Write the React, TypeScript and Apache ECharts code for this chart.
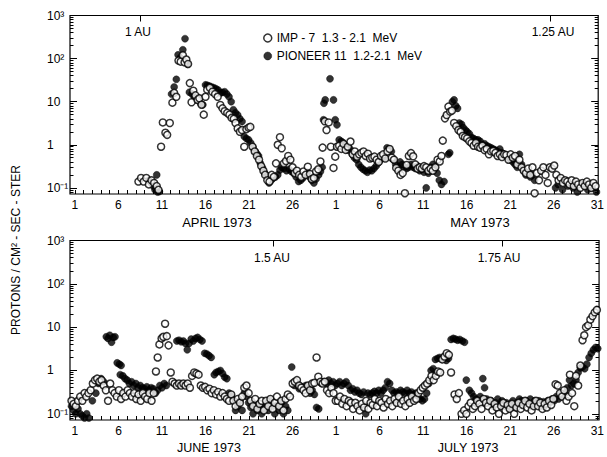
import { useEffect, useRef } from "react";
import * as echarts from "echarts";

const FONT = "'Liberation Sans', Arial, sans-serif";

const IMP_LABEL = "IMP - 7  1.3 - 2.1  MeV";
const PIONEER_LABEL = "PIONEER 11  1.2-2.1  MeV";

const Y_MIN = 0.072;
const Y_MAX = 1000;
const yMajorValues = [0.1, 1, 10, 100, 1000];
const yMajorLabels = ["10⁻¹", "1", "10", "10²", "10³"];
const yMinorValues = [
  0.08, 0.09, 0.2, 0.3, 0.4, 0.5, 0.6, 0.7, 0.8, 0.9, 2, 3, 4, 5, 6, 7, 8, 9,
  20, 30, 40, 50, 60, 70, 80, 90, 200, 300, 400, 500, 600, 700, 800, 900,
];

// day index: first month day d -> d, second month day d -> 30 + d
const dayTickValues = [
  1, 2, 3, 4, 5, 6, 7, 8, 9, 10, 11, 12, 13, 14, 15, 16, 17, 18, 19, 20, 21, 22,
  23, 24, 25, 26, 27, 28, 29, 30, 31, 32, 33, 34, 35, 36, 37, 38, 39, 40, 41, 42,
  43, 44, 45, 46, 47, 48, 49, 50, 51, 52, 53, 54, 55, 56, 57, 58, 59, 60, 61,
];
const dayLabelValues = [1, 6, 11, 16, 21, 26, 31, 36, 41, 46, 51, 56, 61];

const topMonths = ["APRIL 1973", "MAY 1973"];
const bottomMonths = ["JUNE 1973", "JULY 1973"];
const topDistances = ["1 AU", "1.25 AU"];
const bottomDistances = ["1.5 AU", "1.75 AU"];
const yTitle = "PROTONS / CM² - SEC - STER";

// ---- April / May 1973 ----
const impAprMay: [number, number][] = [
  [8.3, 0.14], [8.6, 0.17], [8.9, 0.14], [9.2, 0.17], [9.5, 0.12], [9.8, 0.15], [10.1, 0.13], [10.4, 0.11], [10.6, 0.09],
  [10.9, 0.9], [11.1, 3.3], [11.4, 1.9], [11.6, 1.7], [11.9, 3.2], [12.2, 9.5], [12.4, 16], [12.65, 13], [12.9, 90],
  [13.15, 85], [13.4, 120], [13.6, 82], [13.8, 95], [14.0, 75], [14.2, 27], [14.4, 9.7], [14.6, 18], [14.85, 14],
  [15.1, 11], [15.3, 12], [15.55, 8.5], [15.8, 5], [16.0, 13], [16.2, 19], [16.5, 21], [16.8, 17], [17.1, 15],
  [17.4, 13], [17.7, 8.4], [17.95, 7], [18.2, 6], [18.5, 5.5], [18.75, 5], [19.0, 4.2], [19.25, 4], [19.45, 3.2],
  [19.7, 2.4], [19.95, 2], [20.2, 2.2], [20.45, 0.9], [20.7, 2.3], [20.95, 2.5], [21.15, 2.6], [21.4, 0.9],
  [21.65, 0.7], [21.9, 0.55], [22.15, 0.45], [22.4, 0.32], [22.65, 0.25], [22.85, 0.2], [23.1, 0.15], [23.35, 0.14],
  [23.6, 0.2], [23.85, 0.18], [24.1, 0.37], [24.3, 1.0], [24.55, 1.5], [24.75, 0.83], [25.0, 0.37], [25.25, 0.42],
  [25.5, 0.55], [25.75, 0.45], [26.0, 0.3], [26.25, 0.22], [26.5, 0.25], [26.75, 0.2], [27.0, 0.18], [27.25, 0.24],
  [27.5, 0.2], [27.75, 0.31], [28.0, 0.21], [28.2, 0.16], [28.45, 0.17], [28.7, 0.24], [28.95, 0.27], [29.2, 0.41],
  [29.45, 0.86], [29.7, 3.5], [29.9, 2.2], [30.15, 3.3], [30.4, 0.9], [30.7, 0.29], [30.9, 0.53], [31.1, 0.9],
  [31.35, 0.95], [31.6, 0.8], [31.85, 1.05], [32.1, 0.76], [32.35, 0.9], [32.65, 1.19], [32.9, 0.6], [33.15, 0.7],
  [33.4, 0.53], [33.65, 0.6], [33.9, 0.65], [34.15, 0.7], [34.4, 0.55], [34.65, 0.62], [34.9, 0.48], [35.15, 0.5],
  [35.4, 0.53], [35.65, 0.45], [35.9, 0.4], [36.15, 0.55], [36.4, 0.6], [36.65, 0.48], [36.9, 0.7], [37.15, 0.8],
  [37.4, 0.5], [37.65, 0.45], [37.9, 0.29], [38.15, 0.25], [38.4, 0.2], [38.65, 0.22], [38.9, 0.075], [39.1, 0.34],
  [39.35, 0.55], [39.6, 0.64], [39.85, 0.54], [40.1, 0.35], [40.35, 0.28], [40.6, 0.3], [40.85, 0.28], [41.1, 0.32],
  [41.35, 0.3], [41.6, 0.25], [41.85, 0.28], [42.1, 0.25], [42.4, 0.3], [42.65, 0.45], [42.9, 0.41], [43.1, 0.55],
  [43.25, 1.25], [43.5, 4.1], [43.7, 4.9], [43.9, 7.7], [44.1, 5.9], [44.3, 6.2], [44.55, 3.2], [44.8, 2.7],
  [45.05, 2.2], [45.3, 2.0], [45.55, 1.6], [45.8, 1.5], [46.05, 1.4], [46.3, 1.2], [46.55, 1.1], [46.8, 0.95],
  [47.05, 1.1], [47.3, 0.9], [47.55, 0.85], [47.8, 0.95], [48.05, 0.75], [48.3, 0.8], [48.55, 0.6], [48.8, 0.7],
  [49.05, 0.72], [49.3, 0.65], [49.55, 0.55], [49.8, 0.6], [50.05, 0.52], [50.3, 0.6], [50.55, 0.58], [50.8, 0.45],
  [51.05, 0.6], [51.3, 0.5], [51.55, 0.55], [51.8, 0.35], [52.05, 0.45], [52.3, 0.3], [52.55, 0.25], [52.8, 0.22],
  [53.05, 0.28], [53.3, 0.2], [53.55, 0.3], [53.8, 0.075], [54.05, 0.22], [54.3, 0.15], [54.55, 0.25], [54.8, 0.3],
  [55.05, 0.2], [55.3, 0.13], [55.55, 0.3], [55.8, 0.28], [56.05, 0.33], [56.3, 0.2], [56.55, 0.15], [56.8, 0.17],
  [57.05, 0.13], [57.3, 0.15], [57.55, 0.14], [57.8, 0.12], [58.05, 0.15], [58.3, 0.11], [58.55, 0.14], [58.8, 0.12],
  [59.05, 0.1], [59.3, 0.13], [59.55, 0.11], [59.8, 0.14], [60.05, 0.12], [60.3, 0.1], [60.55, 0.13], [60.8, 0.11],
];

const pioneerAprMay: [number, number][] = [
  [9.5, 0.15], [9.75, 0.13], [10.0, 0.11], [10.2, 0.09], [10.4, 0.2], [10.5, 0.08], [10.7, 0.082],
  [12.1, 15], [12.4, 22], [12.65, 33], [12.85, 122], [13.1, 105], [13.4, 160], [13.65, 290], [13.95, 74],
  [14.15, 16.6], [14.45, 15], [14.7, 13], [14.95, 11], [15.2, 12], [15.45, 9], [15.7, 8.5], [16.0, 24.5],
  [16.2, 24], [16.45, 23], [16.7, 22], [16.95, 21], [17.2, 20], [17.45, 18.7], [17.7, 16], [17.95, 16.3],
  [18.2, 17], [18.45, 15], [18.7, 13], [18.95, 10], [19.2, 6.5], [19.45, 5.5], [19.7, 4.9], [19.95, 4],
  [20.2, 3.45], [20.45, 1.55], [20.7, 1.4], [20.95, 1.3], [21.2, 1.1], [21.45, 0.88], [21.7, 0.7], [21.9, 0.62],
  [22.1, 0.55], [22.3, 0.37], [22.55, 0.29], [22.8, 0.22], [23.05, 0.19], [23.3, 0.13], [23.55, 0.15], [23.8, 0.17],
  [24.05, 0.18], [24.3, 0.2], [24.55, 0.26], [24.75, 0.3], [25.0, 0.28], [25.3, 0.25], [25.6, 0.27], [25.85, 0.24],
  [26.1, 0.22], [26.4, 0.18], [26.7, 0.14], [26.95, 0.15], [27.2, 0.17], [27.45, 0.2], [27.7, 0.23], [27.95, 0.18],
  [28.2, 0.15], [28.45, 0.13], [28.7, 0.16], [29.0, 0.2], [29.2, 0.24], [29.4, 0.3], [29.55, 3.8], [29.6, 9.2],
  [29.75, 11], [30.3, 34], [30.7, 11], [30.9, 3.8], [31.1, 2.9], [31.35, 1.3], [31.6, 1.2], [31.85, 1.1],
  [32.1, 0.9], [32.35, 0.75], [32.6, 0.8], [32.85, 0.6], [33.1, 0.5], [33.35, 0.45], [33.6, 0.35], [33.85, 0.3],
  [34.1, 0.27], [34.35, 0.25], [34.6, 0.23], [34.85, 0.26], [35.1, 0.25], [35.35, 0.28], [35.6, 0.32], [35.85, 0.38],
  [36.1, 0.45], [36.35, 0.5], [36.6, 0.5], [36.85, 0.85], [37.1, 0.8], [37.35, 0.7], [37.6, 0.45], [37.85, 0.35],
  [38.1, 0.3], [38.35, 0.4], [38.6, 0.35], [38.85, 0.3], [39.1, 0.28], [39.35, 0.3], [39.6, 0.35], [39.85, 0.3],
  [40.1, 0.28], [40.35, 0.32], [40.6, 0.25], [40.85, 0.27], [41.1, 0.23], [41.35, 0.1], [41.6, 0.22], [41.85, 0.3],
  [42.1, 0.35], [42.35, 0.28], [42.6, 0.22], [42.85, 0.15], [43.1, 0.12], [43.4, 0.14], [43.9, 0.6], [44.05, 0.65],
  [44.35, 10], [44.55, 11], [44.75, 8], [44.95, 7], [45.15, 3.2], [45.4, 3], [45.6, 2.5], [45.85, 2.2],
  [46.05, 2], [46.3, 1.8], [46.55, 1.5], [46.8, 1.4], [47.05, 1.3], [47.3, 1.3], [47.55, 1.2], [47.8, 1.0],
  [48.05, 1.05], [48.3, 0.95], [48.55, 0.9], [48.8, 0.85], [49.05, 0.8], [49.3, 0.75], [49.55, 0.7], [49.8, 0.8],
  [50.05, 0.65], [50.3, 0.6], [50.55, 0.55], [50.8, 0.5], [51.05, 0.45], [51.3, 0.4], [51.55, 0.35], [51.8, 0.3],
  [52.05, 0.6], [52.3, 0.35], [52.55, 0.25], [52.8, 0.2], [53.05, 0.22], [53.3, 0.18], [53.55, 0.2], [53.8, 0.15],
  [56.2, 0.1], [56.5, 0.12], [57.0, 0.09], [57.6, 0.11], [58.2, 0.1], [58.7, 0.08], [59.3, 0.12], [59.9, 0.09],
  [60.4, 0.1], [60.9, 0.08],
];

// ---- June / July 1973 ----
const impJunJul: [number, number][] = [
  [0.6, 0.2], [0.85, 0.17], [1.1, 0.15], [1.35, 0.2], [1.6, 0.25], [1.85, 0.2], [2.1, 0.3], [2.3, 0.25],
  [2.55, 0.3], [2.8, 0.35], [3.05, 0.5], [3.3, 0.6], [3.55, 0.65], [3.8, 0.55], [4.05, 0.6], [4.3, 0.45],
  [4.55, 0.35], [4.8, 0.2], [5.05, 0.5], [5.3, 0.35], [5.55, 0.3], [5.8, 0.25], [6.05, 0.35], [6.3, 0.22],
  [6.55, 0.3], [6.8, 0.25], [7.05, 0.35], [7.3, 0.3], [7.55, 0.25], [7.8, 0.3], [8.05, 0.22], [8.3, 0.28],
  [8.55, 0.2], [8.8, 0.3], [9.05, 0.25], [9.3, 0.22], [9.55, 0.3], [9.8, 0.2], [10.05, 0.3], [10.3, 0.95],
  [10.5, 2], [10.7, 4], [10.95, 5.5], [11.15, 6], [11.35, 12], [11.55, 6.2], [11.75, 3.8], [12.0, 0.9],
  [12.2, 0.55], [12.45, 0.5], [12.7, 0.45], [12.95, 0.5], [13.2, 0.45], [13.45, 0.5], [13.7, 0.45], [13.95, 0.5],
  [14.2, 0.4], [14.45, 0.75], [14.7, 0.9], [14.95, 0.85], [15.2, 0.8], [15.45, 0.45], [15.7, 0.4], [15.95, 0.42],
  [16.2, 0.35], [16.45, 0.38], [16.7, 0.3], [16.95, 0.35], [17.2, 0.28], [17.45, 0.32], [17.7, 0.25], [17.95, 0.3],
  [18.2, 0.25], [18.45, 0.22], [18.7, 0.2], [18.95, 0.28], [19.2, 0.2], [19.45, 0.15], [19.7, 0.22], [19.95, 0.18],
  [20.2, 0.25], [20.45, 0.4], [20.7, 0.45], [20.95, 0.3], [21.2, 0.2], [21.45, 0.15], [21.7, 0.22], [21.95, 0.13],
  [22.2, 0.17], [22.45, 0.2], [22.7, 0.12], [22.95, 0.2], [23.2, 0.15], [23.45, 0.22], [23.7, 0.13], [23.95, 0.18],
  [24.2, 0.25], [24.45, 0.15], [24.7, 0.2], [24.95, 0.12], [25.2, 0.22], [25.45, 0.28], [25.7, 0.25], [26.0, 0.5],
  [26.25, 0.55], [26.5, 0.6], [26.75, 0.45], [27.0, 0.4], [27.25, 0.35], [27.5, 0.3], [27.75, 0.45], [28.0, 0.35],
  [28.25, 0.5], [28.5, 0.52], [28.75, 2.0], [28.95, 0.72], [29.2, 0.55], [29.45, 0.5], [29.7, 0.55], [29.95, 0.35],
  [30.2, 0.3], [30.45, 0.4], [30.7, 0.3], [30.95, 0.2], [31.2, 0.2], [31.45, 0.25], [31.7, 0.17], [31.95, 0.22],
  [32.2, 0.15], [32.45, 0.2], [32.7, 0.18], [32.95, 0.13], [33.2, 0.18], [33.45, 0.15], [33.7, 0.12], [33.95, 0.17],
  [34.2, 0.14], [34.45, 0.2], [34.7, 0.13], [34.95, 0.18], [35.2, 0.16], [35.45, 0.22], [35.7, 0.15], [35.95, 0.2],
  [36.2, 0.18], [36.45, 0.14], [36.7, 0.22], [36.95, 0.17], [37.2, 0.2], [37.45, 0.15], [37.7, 0.22], [37.95, 0.18],
  [38.2, 0.25], [38.45, 0.17], [38.7, 0.2], [38.95, 0.15], [39.2, 0.22], [39.45, 0.18], [39.7, 0.25], [39.95, 0.2],
  [40.2, 0.22], [40.45, 0.3], [40.7, 0.35], [40.95, 0.4], [41.2, 0.45], [41.45, 0.5], [41.7, 0.6], [41.95, 0.75],
  [42.2, 0.6], [42.45, 0.75], [42.7, 0.95], [42.95, 0.9], [43.2, 1.8], [43.45, 2.1], [43.7, 2.5], [43.95, 2.3],
  [44.2, 0.9], [44.6, 0.28], [44.85, 0.22], [45.1, 0.3], [45.4, 0.1], [45.7, 0.12], [45.95, 0.1], [46.2, 0.15],
  [46.45, 0.18], [46.7, 0.13], [46.95, 0.15], [47.2, 0.2], [47.45, 0.17], [47.7, 0.13], [47.95, 0.22], [48.2, 0.18],
  [48.45, 0.15], [48.7, 0.2], [48.95, 0.12], [49.2, 0.17], [49.45, 0.14], [49.7, 0.1], [49.95, 0.15], [50.2, 0.18],
  [50.45, 0.12], [50.7, 0.16], [50.95, 0.13], [51.2, 0.17], [51.45, 0.1], [51.7, 0.14], [51.95, 0.18], [52.2, 0.13],
  [52.45, 0.16], [52.7, 0.2], [52.95, 0.14], [53.2, 0.17], [53.45, 0.12], [53.7, 0.15], [53.95, 0.2], [54.2, 0.15],
  [54.45, 0.18], [54.7, 0.13], [54.95, 0.17], [55.2, 0.14], [55.45, 0.2], [55.7, 0.16], [55.95, 0.22], [56.2, 0.48],
  [56.45, 0.45], [56.7, 0.3], [56.95, 0.25], [57.2, 0.35], [57.45, 0.2], [57.7, 0.25], [57.85, 0.8], [58.1, 0.3],
  [58.35, 0.15], [58.55, 0.75], [58.8, 0.45], [59.05, 1.3], [59.3, 5], [59.5, 6.5], [59.7, 10], [59.95, 11],
  [60.2, 15], [60.45, 18], [60.7, 22], [60.95, 25],
];

const pioneerJunJul: [number, number][] = [
  [0.6, 0.15], [0.85, 0.12], [1.1, 0.1], [1.35, 0.13], [1.6, 0.1], [1.85, 0.09], [2.1, 0.08], [2.35, 0.1],
  [2.6, 0.08], [3.0, 0.2], [3.4, 0.3], [3.7, 0.5], [4.0, 0.65], [4.3, 0.55], [4.6, 6], [4.8, 5.5],
  [5.0, 6.5], [5.2, 4.5], [5.4, 5.8], [5.6, 6], [5.85, 1.5], [6.1, 1.4], [6.3, 1.3], [6.2, 0.8],
  [6.5, 0.75], [6.75, 0.65], [7.0, 0.6], [7.25, 0.5], [7.5, 0.55], [7.75, 0.45], [8.0, 0.5], [8.25, 0.4],
  [8.5, 0.45], [8.75, 0.4], [9.0, 0.38], [9.25, 0.42], [9.5, 0.35], [9.75, 0.4], [10.0, 0.38], [10.25, 0.3],
  [10.5, 0.35], [10.75, 0.45], [11.0, 0.4], [11.25, 0.5], [11.5, 0.45], [12.7, 4.8], [12.95, 5], [13.2, 4.6],
  [13.45, 4.8], [13.7, 4.2], [13.9, 3], [14.1, 4.2], [14.35, 5.3], [14.6, 4.8], [14.85, 5.5], [15.1, 5.8],
  [15.35, 5.2], [15.6, 4.8], [15.9, 2.5], [16.15, 2.4], [16.4, 2.2], [16.65, 2.0], [17.0, 0.8], [17.2, 0.9],
  [17.45, 0.95], [17.7, 1.0], [17.95, 0.85], [18.2, 0.7], [18.45, 0.65], [18.7, 0.3], [18.95, 0.25], [19.2, 0.2],
  [19.45, 0.12], [19.7, 0.15], [19.95, 0.2], [20.2, 0.12], [20.45, 0.3], [20.7, 0.25], [20.95, 0.18], [21.2, 0.14],
  [21.45, 0.1], [21.7, 0.17], [21.95, 0.12], [22.2, 0.15], [22.45, 0.1], [22.7, 0.13], [22.95, 0.17], [23.2, 0.12],
  [23.45, 0.2], [23.7, 0.15], [23.95, 0.1], [24.2, 0.16], [24.45, 0.12], [24.7, 0.18], [24.95, 0.1], [25.2, 0.15],
  [25.45, 0.12], [25.9, 1.2], [26.2, 0.45], [26.5, 0.5], [26.75, 0.38], [27.0, 0.42], [27.25, 0.35], [27.5, 0.45],
  [27.75, 0.38], [28.0, 0.3], [28.25, 0.35], [28.5, 0.28], [28.75, 0.14], [29.0, 0.13], [29.3, 0.5], [29.6, 0.55],
  [29.9, 0.5], [30.15, 0.6], [30.4, 0.5], [30.65, 0.55], [30.9, 0.45], [31.15, 0.5], [31.4, 0.55], [31.65, 0.45],
  [31.9, 0.5], [32.15, 0.55], [32.4, 0.45], [32.65, 0.35], [32.9, 0.38], [33.15, 0.32], [33.4, 0.35], [33.65, 0.3],
  [33.9, 0.28], [34.15, 0.32], [34.4, 0.1], [34.65, 0.3], [34.9, 0.28], [35.15, 0.3], [35.4, 0.33], [35.65, 0.3],
  [35.9, 0.35], [36.15, 0.3], [36.4, 0.35], [36.65, 0.4], [36.9, 0.55], [37.15, 0.5], [37.4, 0.35], [37.65, 0.3],
  [37.9, 0.32], [38.15, 0.3], [38.4, 0.35], [38.65, 0.32], [38.9, 0.3], [39.15, 0.35], [39.4, 0.3], [39.65, 0.32],
  [39.9, 0.28], [40.15, 0.3], [40.4, 0.25], [40.65, 0.22], [40.9, 0.2], [41.15, 0.22], [41.4, 0.3], [41.65, 0.5],
  [41.9, 1.0], [42.15, 1.1], [42.4, 1.8], [42.65, 1.9], [42.9, 2.0], [43.15, 1.8], [43.4, 2.0], [43.65, 1.7],
  [43.9, 1.9], [44.2, 5.2], [44.45, 5.5], [44.7, 5.3], [44.95, 5.0], [45.2, 5.2], [45.5, 4.8], [45.75, 4.5],
  [45.95, 0.6], [46.3, 0.35], [46.55, 0.3], [46.8, 0.25], [47.05, 0.22], [47.3, 0.2], [47.55, 0.25], [47.85, 0.65],
  [48.05, 0.4], [48.3, 0.22], [48.55, 0.18], [48.8, 0.2], [49.05, 0.15], [49.3, 0.18], [49.55, 0.22], [49.8, 0.16],
  [50.05, 0.2], [50.3, 0.15], [50.55, 0.18], [50.8, 0.13], [51.05, 0.17], [51.3, 0.2], [51.55, 0.15], [51.8, 0.18],
  [52.05, 0.22], [52.3, 0.2], [52.55, 0.17], [52.8, 0.2], [53.05, 0.18], [53.3, 0.22], [53.55, 0.16], [53.8, 0.2],
  [54.05, 0.17], [54.3, 0.2], [54.55, 0.15], [54.8, 0.19], [55.05, 0.16], [55.3, 0.2], [55.55, 0.18], [55.8, 0.22],
  [56.05, 0.2], [56.3, 0.25], [56.55, 0.22], [56.8, 0.3], [57.05, 0.28], [57.3, 0.3], [57.55, 0.4], [57.8, 0.6],
  [58.05, 0.45], [58.3, 0.5], [58.55, 0.6], [58.8, 0.9], [59.05, 1.15], [59.3, 1.2], [59.55, 1.1], [59.8, 1.4],
  [60.05, 2], [60.3, 2.5], [60.55, 3], [60.8, 3.4], [61.05, 3.2],
];

const TXT = "#000";
const lineStyle = { color: "#000", width: 1 };

function dayLabel(v: number) {
  const d = Math.round(v);
  return String(d > 30 ? d - 30 : d);
}

function yLabel(v: number) {
  const i = yMajorValues.findIndex((m) => Math.abs(Math.log10(m) - Math.log10(v)) < 0.01);
  return i >= 0 ? yMajorLabels[i] : "";
}

function makeX(gridIndex: number, min: number, max: number) {
  return {
    type: "value",
    gridIndex,
    min,
    max,
    axisLine: { show: false },
    splitLine: { show: false },
    axisTick: { show: true, inside: true, length: 4, customValues: dayTickValues, lineStyle },
    axisLabel: {
      customValues: dayLabelValues,
      formatter: dayLabel,
      color: TXT,
      fontSize: 12,
      fontFamily: FONT,
      margin: 5,
    },
  };
}

function makeY(gridIndex: number) {
  const base = {
    type: "log",
    logBase: 10,
    gridIndex,
    min: Y_MIN,
    max: Y_MAX,
    axisLine: { show: false },
    splitLine: { show: false },
  };
  return [
    {
      ...base,
      position: "left",
      axisTick: { show: true, inside: true, length: 7, customValues: yMajorValues, lineStyle },
      axisLabel: {
        customValues: yMajorValues,
        formatter: yLabel,
        align: "left",
        margin: 23,
        color: TXT,
        fontSize: 12,
        fontFamily: FONT,
      },
    },
    {
      ...base,
      position: "left",
      axisTick: { show: true, inside: true, length: 3.5, customValues: yMinorValues, lineStyle },
      axisLabel: { show: false },
    },
    {
      ...base,
      position: "right",
      axisTick: { show: true, inside: true, length: 7, customValues: yMajorValues, lineStyle },
      axisLabel: { show: false },
    },
    {
      ...base,
      position: "right",
      axisTick: { show: true, inside: true, length: 3.5, customValues: yMinorValues, lineStyle },
      axisLabel: { show: false },
    },
  ];
}

const openStyle = { color: "#fff", borderColor: "#000", borderWidth: 1.5 };
const filledStyle = { color: "#000", borderColor: "#000", borderWidth: 0.5 };

function textEl(text: string, x: number, y: number, size: number, extra: any = {}) {
  return {
    type: "text",
    x,
    y,
    z: 10,
    ...extra,
    style: {
      text,
      fill: TXT,
      font: `${size}px ${FONT}`,
      align: "center",
      verticalAlign: "middle",
    },
  };
}

function tickEl(x: number, y: number) {
  return {
    type: "line",
    z: 10,
    shape: { x1: x, y1: y, x2: x, y2: y + 6 },
    style: { stroke: "#000", lineWidth: 1 },
  };
}

function buildOption() {
  const scatter = (name: string, data: [number, number][], panel: number, style: any) => ({
    type: "scatter",
    name,
    data,
    xAxisIndex: panel,
    yAxisIndex: panel * 4,
    symbol: "circle",
    symbolSize: 7,
    itemStyle: style,
    emphasis: { disabled: true },
  });
  return {
    animation: false,
    backgroundColor: "#fff",
    grid: [
      { left: 70, right: 1, top: 15.5, height: 178.5, show: true, borderColor: "#000", borderWidth: 1.2, backgroundColor: "transparent" },
      { left: 70, right: 1, top: 240.5, height: 179.5, show: true, borderColor: "#000", borderWidth: 1.2, backgroundColor: "transparent" },
    ],
    xAxis: [makeX(0, 0.44, 61.1), makeX(1, 0.43, 61.2)],
    yAxis: [...makeY(0), ...makeY(1)],
    legend: {
      orient: "vertical",
      left: 258,
      top: 27,
      itemWidth: 8,
      itemHeight: 8,
      itemGap: 6,
      icon: "circle",
      textStyle: { color: TXT, fontSize: 12, fontFamily: FONT, lineHeight: 12 },
      data: [
        { name: IMP_LABEL, itemStyle: openStyle },
        { name: PIONEER_LABEL, itemStyle: filledStyle },
      ],
    },
    series: [
      scatter(PIONEER_LABEL, pioneerAprMay, 0, filledStyle),
      scatter(PIONEER_LABEL, pioneerJunJul, 1, filledStyle),
      scatter(IMP_LABEL, impAprMay, 0, openStyle),
      scatter(IMP_LABEL, impJunJul, 1, openStyle),
    ],
    graphic: [
      textEl(yTitle, 16, 250, 12, { rotation: Math.PI / 2 }),
      textEl(topMonths[0], 217, 222, 13),
      textEl(topMonths[1], 480, 222, 13),
      textEl(bottomMonths[0], 209, 448, 12.5),
      textEl(bottomMonths[1], 468, 448, 12.5),
      textEl(topDistances[0], 138, 32, 12),
      textEl(topDistances[1], 553, 32, 12),
      textEl(bottomDistances[0], 272, 258, 12),
      textEl(bottomDistances[1], 499, 258, 12),
      tickEl(140.5, 15.5),
      tickEl(550.5, 15.5),
      tickEl(273.5, 240.5),
      tickEl(502.5, 240.5),
    ],
  };
}

export default function App() {
  const ref = useRef<HTMLDivElement>(null);
  useEffect(() => {
    if (!ref.current) return;
    const chart = echarts.init(ref.current, null, { renderer: "svg" });
    chart.setOption(buildOption() as any);
    return () => chart.dispose();
  }, []);
  return (
    <div
      ref={ref}
      style={{ position: "fixed", left: 0, top: 0, width: 607, height: 457, background: "#fff" }}
    />
  );
}
